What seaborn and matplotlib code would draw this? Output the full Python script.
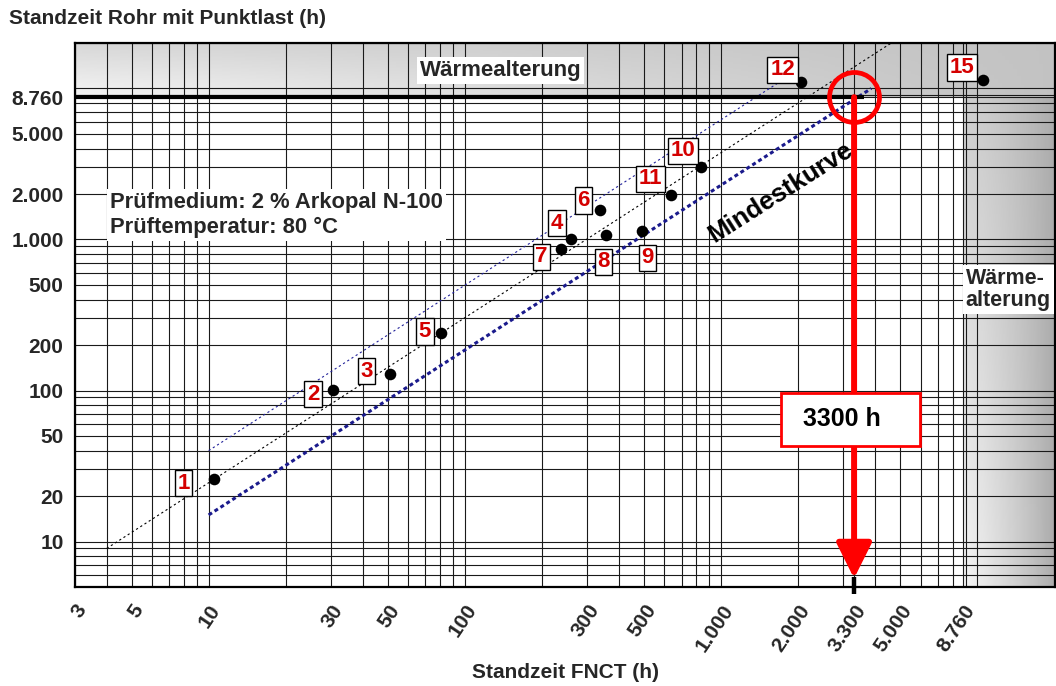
import numpy as np
import matplotlib
matplotlib.use("Agg")
import matplotlib.pyplot as plt
import seaborn as sns
from matplotlib.ticker import FixedLocator, NullFormatter
from matplotlib.patches import Rectangle
import matplotlib.transforms as mtransforms

# ---------------- data ----------------
point_ids = ["1", "2", "3", "4", "5", "6", "7", "8", "9", "10", "11", "12", "15"]
fnct_h = [10.5, 30.5, 51, 259, 81, 337, 237, 356, 491, 835, 638, 2040, 10500]
rohr_h = [26, 101, 129, 1015, 241, 1560, 871, 1065, 1130, 3000, 1960, 11000, 11400]

reg_x = [4, 4610]          # regression line (black dotted)
reg_y = [9, 20000]
upper_x = [10, 1960]       # upper band (thin blue dotted)
upper_y = [40, 13000]
min_x = [10, 3850]         # Mindestkurve (thick blue dotted)
min_y = [15, 10000]

aging_h = 8760             # Wärmealterung threshold
target_h = 3300            # FNCT requirement
hline_x = [3, 3600]

x_ticks = [3, 5, 10, 30, 50, 100, 300, 500, 1000, 2000, 3300, 5000, 8760]
x_labels = ["3", "5", "10", "30", "50", "100", "300", "500", "1.000", "2.000",
            "3.300", "5.000", "8.760"]
y_ticks = [10, 20, 50, 100, 200, 500, 1000, 2000, 5000, 8760]
y_labels = ["10", "20", "50", "100", "200", "500", "1.000", "2.000", "5.000", "8.760"]

x_lim = (3, 20000)
y_lim = (5, 20000)

# label offsets (points) of the numbered boxes relative to their points
label_dx = [-22, -14, -17, -10, -12, -12, -14, -2, 4, -13, -15, -13, -15]
label_dy = [-3, -3, 2, 11, 1, 7, -6, -19, -19, 12, 12, 9, 9]

# ---------------- style ----------------
sns.set_theme(style="white")
plt.rcParams["font.family"] = ["Liberation Sans", "DejaVu Sans"]
plt.rcParams["font.weight"] = "bold"

fig = plt.figure(figsize=(10.56, 6.86), dpi=100)
ax = fig.add_axes([0.0707, 0.1443, 0.9280, 0.7930])
ax.set_xscale("log")
ax.set_yscale("log")
ax.set_xlim(*x_lim)
ax.set_ylim(*y_lim)

# ---------------- gray "Wärmealterung" regions ----------------
lx0, lx1 = np.log10(x_lim[0]), np.log10(x_lim[1])
ly0, ly1 = np.log10(y_lim[0]), np.log10(y_lim[1])
la = np.log10(aging_h)

# top band
xe = np.logspace(lx0, lx1, 260)
ye = np.logspace(la, ly1, 40)
xc = (np.log10(xe[:-1]) + np.log10(xe[1:])) / 2
yc = (np.log10(ye[:-1]) + np.log10(ye[1:])) / 2
T, V = np.meshgrid((xc - lx0) / (lx1 - lx0), (yc - la) / (ly1 - la))
top_c = 0.84 - 0.08 * T
bot_c = 0.96 - 0.20 * T
G = top_c + (bot_c - top_c) * (1 - V)
ax.pcolormesh(xe, ye, G, cmap="gray", vmin=0, vmax=1, shading="flat",
              antialiased=False, zorder=0, linewidth=0)

# right band
xe2 = np.logspace(la, lx1, 80)
ye2 = np.logspace(ly0, la, 160)
xc2 = (np.log10(xe2[:-1]) + np.log10(xe2[1:])) / 2
yc2 = (np.log10(ye2[:-1]) + np.log10(ye2[1:])) / 2
U, W = np.meshgrid((xc2 - la) / (lx1 - la), (yc2 - ly0) / (la - ly0))
G2 = 0.95 - 0.15 * W * (1 - U) - 0.28 * U ** 1.3
ax.pcolormesh(xe2, ye2, G2, cmap="gray", vmin=0, vmax=1, shading="flat",
              antialiased=False, zorder=0, linewidth=0)

# ---------------- grid ----------------
minor = [m * 10 ** e for e in range(0, 5) for m in range(1, 10)]
ax.xaxis.set_major_locator(FixedLocator(x_ticks))
ax.yaxis.set_major_locator(FixedLocator(y_ticks))
ax.xaxis.set_minor_locator(FixedLocator(minor))
ax.yaxis.set_minor_locator(FixedLocator(minor))
ax.xaxis.set_minor_formatter(NullFormatter())
ax.yaxis.set_minor_formatter(NullFormatter())
ax.set_xticklabels(x_labels, rotation=56, ha="right", rotation_mode="anchor",
                   fontsize=15, fontweight="bold")
ax.set_yticklabels(y_labels, fontsize=15, fontweight="bold")
ax.grid(True, which="both", color="#1a1a1a", lw=0.8, zorder=1)
ax.set_axisbelow(True)
ax.tick_params(axis="both", which="major", direction="in", length=9, width=1,
               color="black", pad=8)
ax.tick_params(axis="x", which="major", pad=10)
ax.tick_params(axis="both", which="minor", length=0)
for s in ax.spines.values():
    s.set_color("black")
    s.set_linewidth(1.6)

# ---------------- lines ----------------
ax.plot(reg_x, reg_y, color="black", lw=0.8, ls=(0, (2, 2.5)), zorder=3)
ax.plot(upper_x, upper_y, color="#22229a", lw=0.8, ls=(0, (2, 2.5)), zorder=3)
ax.plot(min_x, min_y, color="#1a1a8c", lw=2.2, ls=(0, (1.3, 1.0)), zorder=3)
ax.plot(hline_x, [aging_h, aging_h], color="black", lw=3, zorder=4,
        solid_capstyle="butt")

# ---------------- points + labels ----------------
sns.scatterplot(x=fnct_h, y=rohr_h, color="black", s=70, edgecolor="black",
                linewidth=0, zorder=6, ax=ax, legend=False)
for pid, px, py, dx, dy in zip(point_ids, fnct_h, rohr_h, label_dx, label_dy):
    ax.annotate(pid, xy=(px, py), xytext=(dx, dy), textcoords="offset points",
                ha="center", va="center", color="#d40000", fontsize=16,
                fontweight="bold", zorder=7,
                bbox=dict(boxstyle="square,pad=0.12", fc="white", ec="black", lw=1))

# ---------------- red marker for 3300 h ----------------
ax.annotate("", xy=(target_h, 5.7), xytext=(target_h, aging_h),
            arrowprops=dict(arrowstyle="-|>,head_length=0.9,head_width=0.45",
                            mutation_scale=24, color="red", lw=4.3,
                            shrinkA=0, shrinkB=0), zorder=8)
ax.plot([target_h], [aging_h], marker="o", ms=36, mfc="none", mec="red",
        mew=3.4, zorder=9, clip_on=False)
trans = mtransforms.blended_transform_factory(ax.transData, ax.transAxes)
ax.plot([target_h, target_h], [-0.012, 0.018], color="black", lw=3.2,
        transform=trans, clip_on=False, zorder=9, solid_capstyle="butt")
ax.add_patch(Rectangle((0.7208, 0.2592), 0.1416, 0.0974, transform=ax.transAxes,
                       fc="white", ec="red", lw=2, zorder=10))
ax.text(0.783, 0.308, "3300 h", transform=ax.transAxes, ha="center", va="center",
        fontsize=18, fontweight="bold", color="black", zorder=11)

# ---------------- annotations ----------------
wbox = dict(boxstyle="square,pad=0.12", fc="white", ec="none")
ax.text(0.4344, 0.9494, "Wärmealterung", transform=ax.transAxes, ha="center",
        va="center", fontsize=16, fontweight="bold", bbox=wbox, zorder=5)
ax.text(0.9094, 0.5469, "Wärme-\nalterung", transform=ax.transAxes, ha="left",
        va="center", fontsize=15.5, fontweight="bold", linespacing=1.1,
        bbox=wbox, zorder=5)
ax.text(0.036, 0.684, "Prüfmedium: 2 % Arkopal N-100\nPrüftemperatur: 80 °C",
        transform=ax.transAxes, ha="left", va="center", fontsize=15.8,
        fontweight="bold", linespacing=1.2,
        bbox=dict(boxstyle="square,pad=0.15", fc="white", ec="none"), zorder=5)
ax.text(1700, 2050, "Mindestkurve", ha="center", va="center", rotation=32.5,
        fontsize=18.5, fontweight="bold", color="black", zorder=5)

fig.text(9 / 1056, 1 - 18 / 686, "Standzeit Rohr mit Punktlast (h)", ha="left",
         va="center", fontsize=15, fontweight="bold")
fig.text(565 / 1056, 1 - 673 / 686, "Standzeit FNCT (h)", ha="center",
         va="center", fontsize=15, fontweight="bold")

fig.savefig("out.png", dpi=100)
